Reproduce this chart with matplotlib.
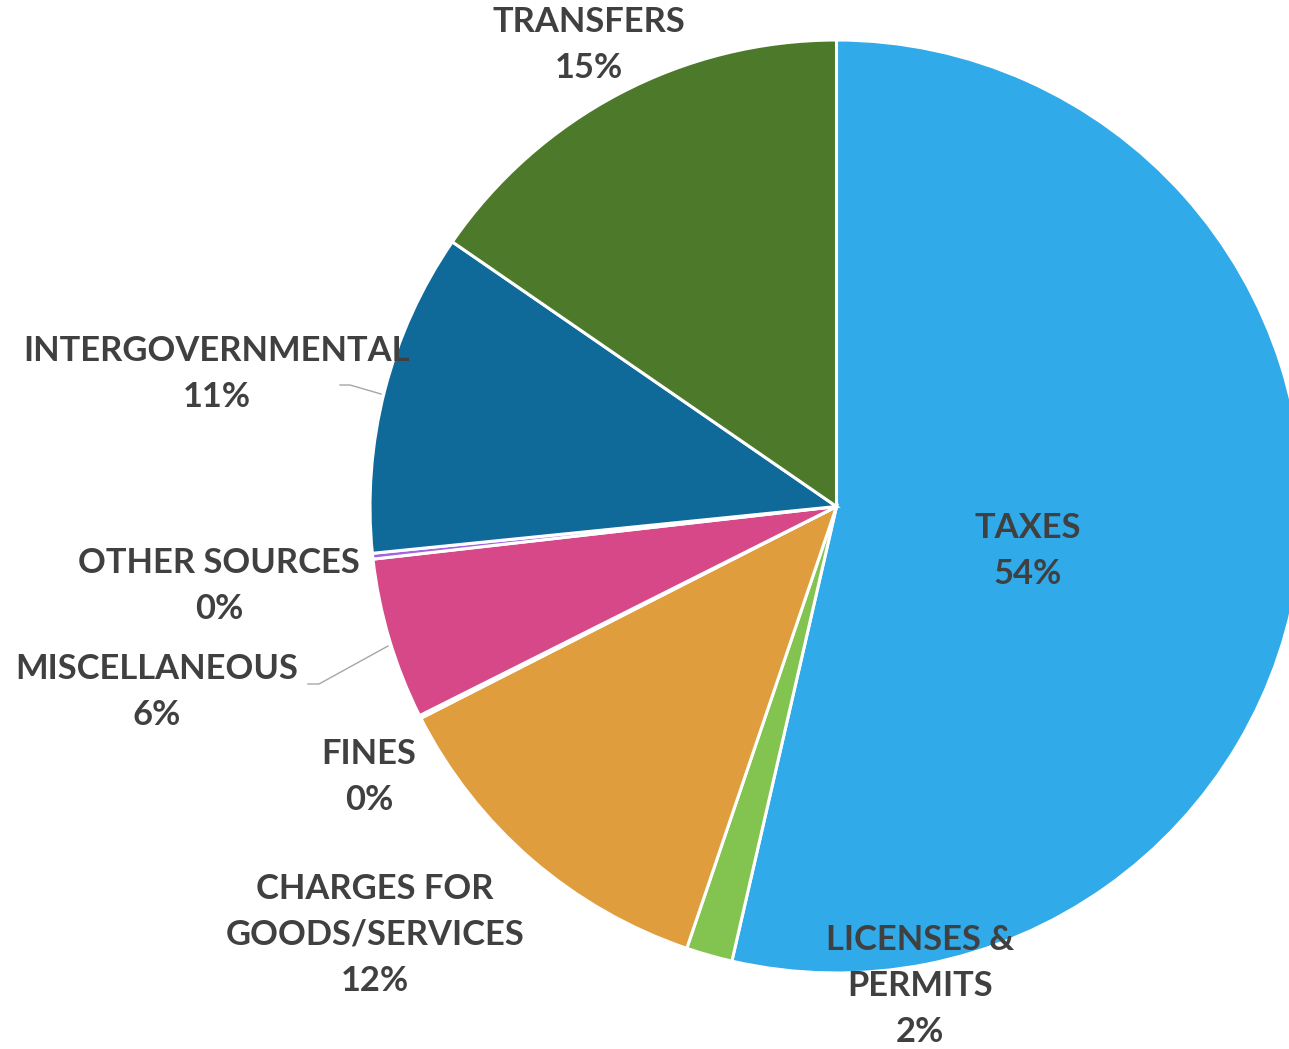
import matplotlib
matplotlib.use("Agg")
import matplotlib.pyplot as plt

# Revenue sources, in drawing order (clockwise from 12 o'clock)
categories = ["TAXES", "LICENSES &\nPERMITS", "CHARGES FOR\nGOODS/SERVICES", "FINES",
              "MISCELLANEOUS", "OTHER SOURCES", "INTERGOVERNMENTAL", "TRANSFERS"]
shares = [53.6, 1.6, 12.3, 0.1, 5.6, 0.2, 11.2, 15.4]
colors = ["#31AAE9", "#83C34F", "#E09D3E", "#A5A5A5",
          "#D64887", "#A463E0", "#0F6A9A", "#4D7A2A"]

W, H = 1289, 1049
fig = plt.figure(figsize=(W / 100, H / 100), dpi=100)
ax = fig.add_axes([0, 0, 1, 1])

cx, cy, r = 836.5, H - 506.5, 466.5
ax.pie(shares, colors=colors, startangle=90, counterclock=False,
       center=(cx, cy), radius=r,
       wedgeprops=dict(edgecolor="white", linewidth=2.2))
ax.set_xlim(0, W)
ax.set_ylim(0, H)
ax.set_aspect("equal")
ax.axis("off")

# label anchor points (pixels from top-left)
label_pos = [(1028, 551), (920, 986), (375, 935), (369, 777),
             (157, 692), (219, 586), (217, 374), (589, 45)]

total = sum(shares)
for name, val, (x, y) in zip(categories, shares, label_pos):
    pct = f"{100 * val / total:.0f}%"
    ax.text(x, H - y, f"{name}\n{pct}", ha="center", va="center",
            fontsize=24.8, fontweight="bold", family=["Lato", "DejaVu Sans"],
            color="#404040", linespacing=1.52)

# leader lines for the labels set off to the left
leaders = [[(340, 385), (350, 385), (381, 394)],
           [(308, 684), (319, 684), (388, 646)]]
for pts in leaders:
    xs = [p[0] for p in pts]
    ys = [H - p[1] for p in pts]
    ax.plot(xs, ys, color="#A6A6A6", linewidth=1.0)

fig.savefig("out.png", dpi=100)
